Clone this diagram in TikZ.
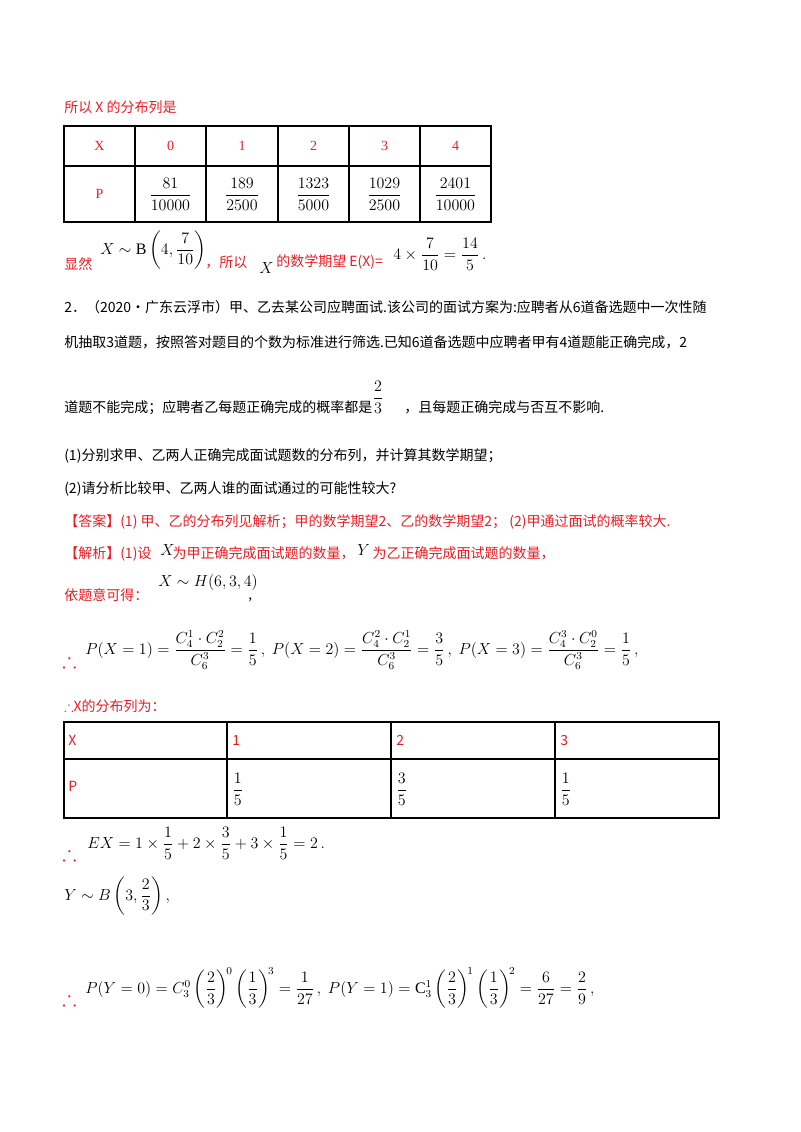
\documentclass[tikz,border=0pt]{standalone}
\usepackage{amsmath,amssymb}
\usepackage{fontspec}
\setmainfont{Liberation Serif}
\newfontfamily\cjk{Noto Sans CJK SC}
\definecolor{rd}{RGB}{232,28,36}
\begin{document}
\begin{tikzpicture}[x=0.75pt,y=-0.75pt,
  t/.style={anchor=west,inner sep=0pt,font=\cjk\fontsize{10.5}{12}\selectfont},
  r/.style={t,text=rd},
  m/.style={anchor=west,inner sep=0pt,font=\fontsize{12}{15}\selectfont},
  c/.style={inner sep=0pt,font=\fontsize{12}{15}\selectfont},
  s/.style={inner sep=0pt,text=rd,font=\fontsize{10.5}{12}\selectfont},
  th/.style={anchor=west,inner sep=0pt,text=rd,font=\bfseries\fontsize{16}{18}\selectfont},
  g/.style={line width=1.3pt},
  g2/.style={line width=0.8pt}]
\useasboundingbox (0,0) rectangle (800,1132);
\node[r] (l1) at (64,107) {所以 X 的分布列是};
% table 1
\draw[g] (64,126) rectangle (491,222);
\draw[g] (64,166) -- (491,166);
\foreach \x in {135,206,278,349,420} \draw[g] (\x,126) -- (\x,222);
\node[s] (hx) at (99.5,146) {X};
\node[s] (hp) at (99.5,194) {P};
\foreach \x/\v in {170.5/0,242/1,313.5/2,384.5/3,455.5/4} \node[s] at (\x,146) {\v};
\foreach \x/\a/\b in {170.5/81/10000,242/189/2500,313.5/1323/5000,384.5/1029/2500,455.5/2401/10000}
  \node[c] at (\x,194) {$\dfrac{\a}{\b}$};
\node[r] (l2) at (64,264) {显然};
\node[m] (l2m) at (100,250) {$X\sim\mathrm{B}\left(4,\dfrac{7}{10}\right)$};
\node[r] (l2b) at (205,262) {，所以};
\node[m] (l2x) at (259,268) {$X$};
\node[r] (l2c) at (276,262) {的数学期望 E(X)=};
\node[m] (l2d) at (393,254) {$4\times\dfrac{7}{10}=\dfrac{14}{5}\,.$};
\node[t] (p1) at (64,307) {2．（2020·广东云浮市）甲、乙去某公司应聘面试.该公司的面试方案为:应聘者从6道备选题中一次性随};
\node[t] (p2) at (64,342) {机抽取3道题，按照答对题目的个数为标准进行筛选.已知6道备选题中应聘者甲有4道题能正确完成，2};
\node[t] (p3) at (64,408) {道题不能完成；应聘者乙每题正确完成的概率都是\hspace{2.3em}，且每题正确完成与否互不影响.};
\node[c] (f23) at (378,397) {$\dfrac{2}{3}$};
\node[t] (q1) at (64,456) {(1)分别求甲、乙两人正确完成面试题数的分布列，并计算其数学期望；};
\node[t] (q2) at (64,489) {(2)请分析比较甲、乙两人谁的面试通过的可能性较大?};
\node[r] (ans) at (64,522) {【答案】(1) 甲、乙的分布列见解析；甲的数学期望2、乙的数学期望2； (2)甲通过面试的概率较大.};
\node[r] (jx) at (64,554) {【解析】(1)设\hspace{1.5em}为甲正确完成面试题的数量，\hspace{1.3em}为乙正确完成面试题的数量，};
\node[m] (jxx) at (160,550) {$X$};
\node[m] (jxy) at (357,550) {$Y$};
\node[r] (yt) at (64,595) {依题意可得：};
\node[m] (hx2) at (158,582) {$X\sim H(6,3,4)$};
\node[m] (cm1) at (248,600) {,};
\node[th] (th1) at (62,660) {$\therefore$};
\node[m] (px) at (85,650) {$P(X=1)=\dfrac{C_4^1\cdot C_2^2}{C_6^3}=\dfrac{1}{5}\,,\ P(X=2)=\dfrac{C_4^2\cdot C_2^1}{C_6^3}=\dfrac{3}{5}\,,\ P(X=3)=\dfrac{C_4^3\cdot C_2^0}{C_6^3}=\dfrac{1}{5}\,,$};
\node[r] (dl) at (64,706) {$\therefore$\textit{X}的分布列为：};
% table 2
\draw[g2] (64,722) rectangle (719,818);
\draw[g2] (64,759) -- (719,759);
\foreach \x in {227,391,555} \draw[g2] (\x,722) -- (\x,818);
\node[r] (t2x) at (68,740) {\textit{X}};
\node[r] (t2p) at (68,786) {\textit{P}};
\foreach \x/\v in {232/1,396/2,560/3} \node[r] at (\x,740) {\v};
\foreach \x/\v in {232/1,396/3,560/1} \node[m] at (\x,789) {$\dfrac{\v}{5}$};
\node[th] (th2) at (62,853) {$\therefore$};
\node[m] (ex) at (87,843) {$EX=1\times\dfrac{1}{5}+2\times\dfrac{3}{5}+3\times\dfrac{1}{5}=2\,.$};
\node[m] (yb) at (64,896) {$Y\sim B\left(3,\dfrac{2}{3}\right),$};
\node[th] (th3) at (62,998) {$\therefore$};
\node[m] (py) at (85,988) {$P(Y=0)=C_3^0\left(\dfrac{2}{3}\right)^{\!0}\left(\dfrac{1}{3}\right)^{\!3}=\dfrac{1}{27}\,,\ P(Y=1)=\mathrm{C}_3^1\left(\dfrac{2}{3}\right)^{\!1}\left(\dfrac{1}{3}\right)^{\!2}=\dfrac{6}{27}=\dfrac{2}{9}\,,$};
\end{tikzpicture}
\end{document}
